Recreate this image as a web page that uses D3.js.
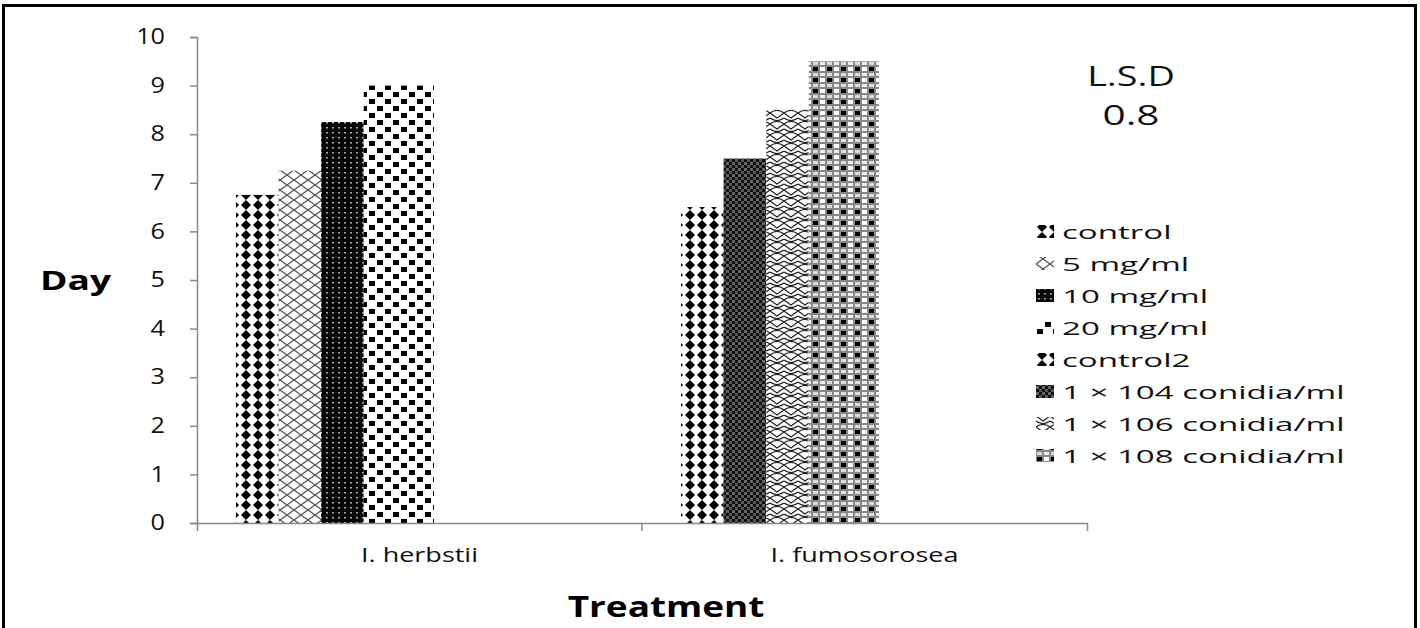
<!DOCTYPE html>
<html>
<head>
<meta charset="utf-8">
<script src="https://cdn.jsdelivr.net/npm/d3@7"></script>
<style>
  body { margin: 0; background: #fff; }
  svg { display: block; font-family: "Open Sans", "Noto Sans", sans-serif; }
</style>
</head>
<body>
<div id="chart"></div>
<script>
let categories = ["I. herbstii", "I. fumosorosea"];
let seriesNames = ["control", "5 mg/ml", "10 mg/ml", "20 mg/ml", "control2",
    "1 × 104 conidia/ml", "1 × 106 conidia/ml", "1 × 108 conidia/ml"];
// bars shown per group: series index + value (days)
let herbstiiSeries = [0, 1, 2, 3];
let herbstiiValues = [6.75, 7.25, 8.25, 9.0];
let fumosoroseaSeries = [4, 5, 6, 7];
let fumosoroseaValues = [6.5, 7.5, 8.5, 9.5];
let yTicks = [0, 1, 2, 3, 4, 5, 6, 7, 8, 9, 10];
let lsdLabel = "L.S.D";
let lsdValue = "0.8";

let width = 1420, height = 628;
let svg = d3.select("#chart").append("svg")
    .attr("width", width).attr("height", height);

let defs = svg.append("defs");

function pat(id, w, h, build) {
    let p = defs.append("pattern").attr("id", id)
        .attr("patternUnits", "userSpaceOnUse").attr("width", w).attr("height", h);
    build(p);
}
// text in the picture is stretched sideways, so draw it at (x,y) and widen it
function stretchText(g, x, y, sx, str) {
    return g.append("text")
        .attr("transform", `translate(${x},${y}) scale(${sx},1)`)
        .text(str);
}

// 0 control: black diamonds
pat("p0", 12, 10, p => {
    p.append("rect").attr("width", 12).attr("height", 10).attr("fill", "#fff");
    p.append("path").attr("d", "M6,0 L11,5 L6,10 L1,5Z").attr("fill", "#000");
});
// 1 5 mg/ml: cross hatch
pat("p1", 14, 10, p => {
    p.append("rect").attr("width", 14).attr("height", 10).attr("fill", "#fff");
    p.append("path").attr("d", "M0,0 L14,10 M14,0 L0,10").attr("stroke", "#555").attr("stroke-width", 1.3);
});
// 2 10 mg/ml: black with light dots
pat("p2", 6, 5, p => {
    p.append("rect").attr("width", 6).attr("height", 5).attr("fill", "#050505");
    p.append("rect").attr("x", 2).attr("y", 2).attr("width", 2).attr("height", 1.5).attr("fill", "#aaa");
});
// 3 20 mg/ml: checkerboard
pat("p3", 16, 14, p => {
    p.append("rect").attr("width", 16).attr("height", 14).attr("fill", "#fff");
    p.append("rect").attr("x", 1).attr("y", 1).attr("width", 6).attr("height", 5).attr("fill", "#000");
    p.append("rect").attr("x", 9).attr("y", 8).attr("width", 6).attr("height", 5).attr("fill", "#000");
});
// 4 control2: diamonds
pat("p4", 12, 10, p => {
    p.append("rect").attr("width", 12).attr("height", 10).attr("fill", "#fff");
    p.append("path").attr("d", "M6,0 L11,5 L6,10 L1,5Z").attr("fill", "#000");
});
// 5 1x104: dense dark
pat("p5", 6, 6, p => {
    p.append("rect").attr("width", 6).attr("height", 6).attr("fill", "#111");
    p.append("rect").attr("x", 0).attr("y", 0).attr("width", 3).attr("height", 3).attr("fill", "#666");
    p.append("rect").attr("x", 3).attr("y", 3).attr("width", 3).attr("height", 3).attr("fill", "#555");
});
// 6 1x106: waves
pat("p6", 14, 11, p => {
    p.append("rect").attr("width", 14).attr("height", 11).attr("fill", "#fff");
    p.append("path").attr("d", "M0,3 Q7,-2 14,3 M0,8 Q7,13 14,8 M0,3 L7,8 L14,3")
        .attr("fill", "none").attr("stroke", "#222").attr("stroke-width", 1.2);
});
// 7 1x108: grey grid with black squares
pat("p7", 14, 11, p => {
    p.append("rect").attr("width", 14).attr("height", 11).attr("fill", "#888");
    p.append("rect").attr("x", 8).attr("y", 1).attr("width", 5).attr("height", 4).attr("fill", "#fff");
    p.append("rect").attr("x", 1).attr("y", 1).attr("width", 5).attr("height", 4).attr("fill", "#000");
    p.append("rect").attr("x", 1).attr("y", 7).attr("width", 5).attr("height", 3).attr("fill", "#ddd");
    p.append("rect").attr("x", 8).attr("y", 7).attr("width", 5).attr("height", 3).attr("fill", "#eee");
});

// frame
svg.append("rect").attr("x", 3.5).attr("y", 5.5).attr("width", 1412).attr("height", 660)
    .attr("fill", "none").attr("stroke", "#000").attr("stroke-width", 3);

let plot = {left: 197, right: 1087, top: 37, bottom: 523};

let y = d3.scaleLinear().domain([0, 10]).range([plot.bottom, plot.top]);
let x0 = d3.scaleBand().domain(categories).range([plot.left, plot.right]).padding(0);
// inner slots: last bar of each group is wider
let slotSpans = [1, 1, 1, 1.65];
let slotStart = d3.cumsum([0, ...slotSpans]);
let x1 = d3.scaleLinear().domain([0, d3.sum(slotSpans)]).range([39, 237]);

let groups = [
    {cat: categories[0], series: herbstiiSeries, values: herbstiiValues},
    {cat: categories[1], series: fumosoroseaSeries, values: fumosoroseaValues}
];

let bars = [];
groups.forEach(g => g.values.forEach((v, i) => bars.push({cat: g.cat, s: g.series[i], slot: i, v: v})));

svg.append("g").selectAll("rect").data(bars).join("rect")
    .attr("x", d => x0(d.cat) + x1(slotStart[d.slot]))
    .attr("width", d => x1(slotStart[d.slot + 1]) - x1(slotStart[d.slot]))
    .attr("y", d => y(d.v))
    .attr("height", d => y(0) - y(d.v))
    .attr("fill", d => `url(#p${d.s})`);

// y axis
let tickSx = 1.2;
let yAxis = svg.append("g").attr("transform", `translate(${plot.left},0)`)
    .call(d3.axisLeft(y).tickValues(yTicks).tickFormat(d3.format("d")).tickSize(7).tickPadding(25).tickSizeOuter(7));
yAxis.selectAll("path,line").attr("stroke", "#888").attr("stroke-width", 1.5);
yAxis.selectAll("text")
    .attr("font-size", 21).attr("fill", "#111").attr("font-family", "Open Sans, sans-serif")
    .attr("x", -32 / tickSx)
    .attr("transform", `scale(${tickSx},1)`);

// x axis
let xAxis = svg.append("g").attr("transform", `translate(0,${plot.bottom})`)
    .call(d3.axisBottom(x0).tickValues([]).tickSizeOuter(8));
xAxis.select(".domain").attr("stroke", "#888").attr("stroke-width", 1.5);
svg.append("g").selectAll("line").data(categories.slice(1)).join("line")
    .attr("x1", d => x0(d)).attr("x2", d => x0(d))
    .attr("y1", plot.bottom).attr("y2", plot.bottom + 8)
    .attr("stroke", "#888").attr("stroke-width", 1.5);
let catG = svg.append("g").attr("font-size", 20).attr("fill", "#111").attr("text-anchor", "middle");
categories.forEach(c => stretchText(catG, x0(c) + x0.bandwidth() / 2, 562, 1.35, c));

// axis titles
let titleG = svg.append("g").attr("font-weight", "bold").attr("fill", "#000");
stretchText(titleG, 40, 290, 1.43, "Day").attr("font-size", 26);
stretchText(titleG, 666, 617, 1.32, "Treatment").attr("font-size", 28).attr("text-anchor", "middle");

// LSD
let lsdG = svg.append("g").attr("font-size", 28).attr("fill", "#111").attr("text-anchor", "middle");
stretchText(lsdG, 1131, 86, 1.35, lsdLabel);
stretchText(lsdG, 1131, 125, 1.45, lsdValue);

// legend
let legend = svg.append("g").selectAll("g").data(seriesNames).join("g")
    .attr("transform", (d, i) => `translate(1036,${232 + i * 32})`);
legend.append("rect").attr("x", 0).attr("y", -7).attr("width", 18).attr("height", 13)
    .attr("fill", (d, i) => `url(#p${i})`);
legend.append("text")
    .attr("transform", "translate(26,0) scale(1.74,1)")
    .attr("dy", "0.35em")
    .attr("font-size", 19).attr("fill", "#111").text(d => d);
</script>
</body>
</html>
